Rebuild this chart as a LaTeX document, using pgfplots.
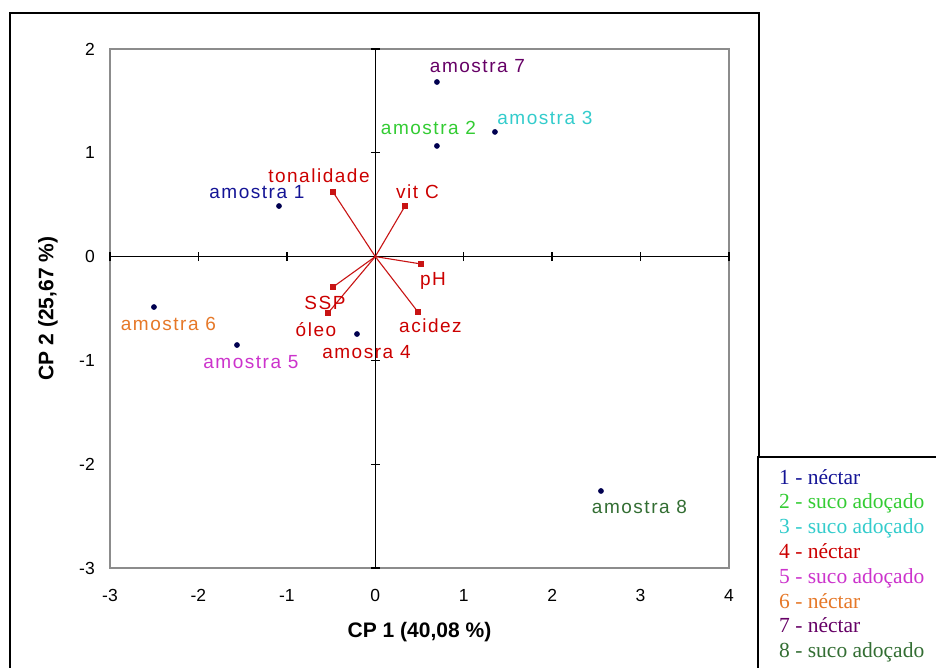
\documentclass[border=0pt]{standalone}
\usepackage{pgfplots}
\pgfplotsset{compat=1.18}
\usepackage{fontspec}
\setmainfont{Liberation Sans}
\newfontfamily\lblfont[LetterSpace=8]{Liberation Sans}
\newfontfamily\legfont{Liberation Serif}
\definecolor{c1}{RGB}{20,20,150}
\definecolor{c2}{RGB}{51,204,51}
\definecolor{c3}{RGB}{51,204,204}
\definecolor{c4}{RGB}{204,0,0}
\definecolor{c5}{RGB}{204,51,204}
\definecolor{c6}{RGB}{230,120,40}
\definecolor{c7}{RGB}{102,0,102}
\definecolor{c8}{RGB}{51,110,51}
\definecolor{ptc}{RGB}{0,0,80}
\definecolor{vecc}{RGB}{200,20,20}
\tikzset{lbl/.style={font=\lblfont\fontsize{19}{22}\selectfont, inner sep=0pt}}
\pgfplotstableread{
x y
-1.089 0.487
0.697 1.066
1.353 1.201
-0.207 -0.746
-1.564 -0.852
-2.503 -0.486
0.697 1.682
2.552 -2.258
}\samples
\pgfplotstableread{
x y
-0.478 0.622
0.336 0.487
0.517 -0.071
0.483 -0.534
-0.478 -0.293
-0.535 -0.544
}\vectors
\begin{document}
\begin{tikzpicture}
\useasboundingbox (0,0) rectangle (936pt,668pt);
\fill[white] (0,0) rectangle (936pt,668pt);
\draw[line width=2pt] (10pt,-10pt) -- (10pt,655pt) -- (759pt,655pt) -- (759pt,-10pt);
\begin{axis}[
  at={(110pt,100pt)}, anchor=south west,
  width=619pt, height=519pt, scale only axis,
  xmin=-3, xmax=4, ymin=-3, ymax=2,
  axis line style={draw=black!45, line width=1.3pt},
  xtick={-3,...,4}, ytick={-3,...,2},
  major tick length=0pt,
  /pgf/number format/assume math mode=true,
  tick label style={font=\fontsize{17.5}{20}\selectfont},
  yticklabel style={anchor=east, inner sep=0pt, xshift=-15pt},
  xticklabel style={anchor=north, inner sep=0pt, yshift=-21pt},
  xlabel={CP 1 (40,08 \%)}, ylabel={CP 2 (25,67 \%)},
  label style={font=\fontsize{21}{24}\selectfont\bfseries},
  xlabel style={at={(axis description cs:0.5,-0.1233)}, anchor=center},
  ylabel style={at={(axis description cs:-0.1002,0.5)}, anchor=center},
]
\end{axis}
\begin{axis}[
  at={(110pt,100pt)}, anchor=south west,
  width=619pt, height=519pt, scale only axis,
  xmin=-3, xmax=4, ymin=-3, ymax=2,
  axis lines=middle,
  axis line style={black, line width=1.5pt, -},
  xtick={-3,-2,-1,1,2,3,4}, ytick={-3,-2,-1,1,2},
  xticklabels={}, yticklabels={},
  tick align=center, major tick length=9pt,
  tick style={black, line width=1.3pt},
  clip=false,
]
\addplot[vecc, line width=1.1pt] coordinates {(0,0) (-0.478,0.622)};
\addplot[vecc, line width=1.1pt] coordinates {(0,0) (0.336,0.487)};
\addplot[vecc, line width=1.1pt] coordinates {(0,0) (0.517,-0.071)};
\addplot[vecc, line width=1.1pt] coordinates {(0,0) (0.483,-0.534)};
\addplot[vecc, line width=1.1pt] coordinates {(0,0) (-0.478,-0.293)};
\addplot[vecc, line width=1.1pt] coordinates {(0,0) (-0.535,-0.544)};
\addplot[only marks, mark=square*, mark size=2.5pt, mark options={fill=vecc, draw=vecc}] table {\vectors};
\addplot[only marks, mark=*, mark size=2.6pt, mark options={fill=ptc, draw=ptc}] table {\samples};
\node[lbl, text=c1] at (axis cs:-1.338,0.622) {amostra 1};
\node[lbl, text=c2] at (axis cs:0.602,1.239) {amostra 2};
\node[lbl, text=c3] at (axis cs:1.919,1.335) {amostra 3};
\node[lbl, text=c4] at (axis cs:-0.100,-0.919) {amosra 4};
\node[lbl, text=c5] at (axis cs:-1.406,-1.015) {amostra 5};
\node[lbl, text=c6] at (axis cs:-2.339,-0.649) {amostra 6};
\node[lbl, text=c7] at (axis cs:1.156,1.836) {amostra 7};
\node[lbl, text=c8] at (axis cs:2.988,-2.412) {amostra 8};
\node[lbl, text=c4] at (axis cs:-0.637,0.776) {tonalidade};
\node[lbl, text=c4] at (axis cs:0.477,0.622) {vit C};
\node[lbl, text=c4] at (axis cs:0.652,-0.235) {pH};
\node[lbl, text=c4] at (axis cs:-0.569,-0.447) {SSP};
\node[lbl, text=c4] at (axis cs:-0.671,-0.707) {óleo};
\node[lbl, text=c4] at (axis cs:0.624,-0.669) {acidez};
\end{axis}
\draw[line width=2pt, fill=white] (758pt,-10pt) -- (758pt,211pt) -- (945pt,211pt);
\node[anchor=north west, inner sep=0pt, align=left, font=\legfont\fontsize{21.5}{24.8}\selectfont] at (779pt,199pt) {%
\textcolor{c1}{1 - néctar}\\
\textcolor{c2}{2 - suco adoçado}\\
\textcolor{c3}{3 - suco adoçado}\\
\textcolor{c4}{4 - néctar}\\
\textcolor{c5}{5 - suco adoçado}\\
\textcolor{c6}{6 - néctar}\\
\textcolor{c7}{7 - néctar}\\
\textcolor{c8}{8 - suco adoçado}};
\end{tikzpicture}
\end{document}
